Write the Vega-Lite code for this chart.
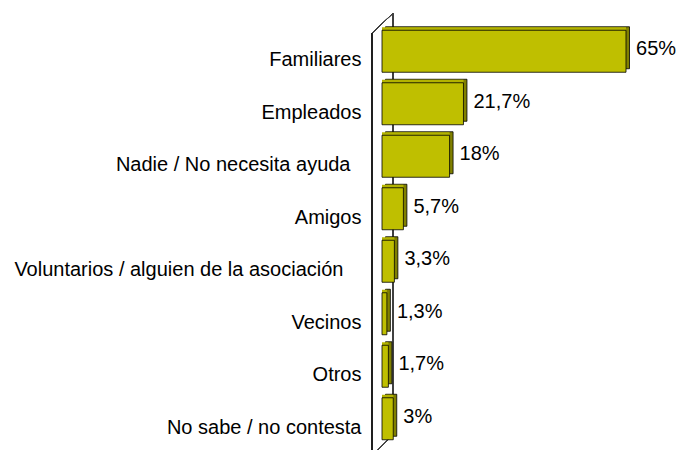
{
  "$schema": "https://vega.github.io/schema/vega-lite/v6.json",
  "autosize": {"type": "none"},
  "padding": {"left": 382, "top": 25, "right": 4, "bottom": 5},
  "width": 290,
  "height": 420,
  "background": "white",
  "config": {
    "view": {"stroke": null},
    "font": "Liberation Sans",
    "locale": {"number": {"decimal": ",", "thousands": ".", "grouping": [3], "currency": ["", " €"]}}
  },
  "data": {
    "values": [
      {"categoria": "Familiares", "valor": 0.65},
      {"categoria": "Empleados", "valor": 0.217},
      {"categoria": "Nadie / No necesita ayuda", "valor": 0.18},
      {"categoria": "Amigos", "valor": 0.057},
      {"categoria": "Voluntarios / alguien de la asociación", "valor": 0.033},
      {"categoria": "Vecinos", "valor": 0.013},
      {"categoria": "Otros", "valor": 0.017},
      {"categoria": "No sabe / no contesta", "valor": 0.03}
    ]
  },
  "encoding": {
    "y": {
      "field": "categoria",
      "type": "nominal",
      "sort": null,
      "scale": {
        "domain": ["Familiares", "Empleados", "Nadie / No necesita ayuda", "Amigos", "Voluntarios / alguien de la asociación", "Vecinos", "Otros", "No sabe / no contesta"],
        "paddingInner": 0.2,
        "paddingOuter": 0.1
      },
      "axis": {
        "title": null,
        "domain": false,
        "ticks": false,
        "tickSize": 0,
        "labelPadding": {
          "condition": [
            {"test": "datum.value == 'Nadie / No necesita ayuda'", "value": 32},
            {"test": "datum.value == 'Voluntarios / alguien de la asociación'", "value": 39}
          ],
          "value": 21
        },
        "labelOffset": 9,
        "labelFontSize": 20,
        "labelFont": "Liberation Sans",
        "labelColor": "black",
        "labelLimit": 500
      }
    },
    "x": {
      "field": "valor",
      "type": "quantitative",
      "scale": {"domain": [0, 0.7725], "nice": false},
      "axis": null
    }
  },
  "layer": [
    {
      "mark": {"type": "rule", "color": "#404040", "strokeWidth": 1, "xOffset": 11, "yOffset": -38, "y2Offset": 16},
      "encoding": {
        "x": {"datum": 0},
        "y": {"datum": "Familiares"},
        "y2": {"datum": "No sabe / no contesta"}
      }
    },
    {
      "mark": {"type": "rule", "color": "#404040", "strokeWidth": 1, "xOffset": -10, "x2Offset": 11, "yOffset": -18, "y2Offset": -38},
      "encoding": {
        "x": {"datum": 0},
        "x2": {"datum": 0},
        "y": {"datum": "Familiares"},
        "y2": {"datum": "Familiares"}
      }
    },
    {
      "mark": {"type": "rule", "color": "#404040", "strokeWidth": 1, "xOffset": -10, "x2Offset": 11, "yOffset": 37, "y2Offset": 16},
      "encoding": {
        "x": {"datum": 0},
        "x2": {"datum": 0},
        "y": {"datum": "No sabe / no contesta"},
        "y2": {"datum": "No sabe / no contesta"}
      }
    },
    {
      "mark": {"type": "bar", "fill": "#808000", "stroke": "black", "strokeWidth": 0.8, "xOffset": 3.5, "yOffset": -3.5}
    },
    {
      "mark": {"type": "bar", "fill": "#B3B300", "strokeWidth": 0, "yOffset": -3}
    },
    {
      "mark": {"type": "bar", "fill": "#BFBF00", "stroke": "black", "strokeWidth": 0.8}
    },
    {
      "mark": {"type": "rule", "color": "#202020", "strokeWidth": 1.2, "xOffset": -10, "yOffset": -18, "y2Offset": 37},
      "encoding": {
        "x": {"datum": 0},
        "y": {"datum": "Familiares"},
        "y2": {"datum": "No sabe / no contesta"}
      }
    },
    {
      "mark": {"type": "text", "align": "left", "baseline": "middle", "dx": 10, "dy": -2, "fontSize": 20, "font": "Liberation Sans", "color": "black"},
      "encoding": {
        "text": {"field": "valor", "type": "quantitative", "format": ".1~%"}
      }
    }
  ]
}
